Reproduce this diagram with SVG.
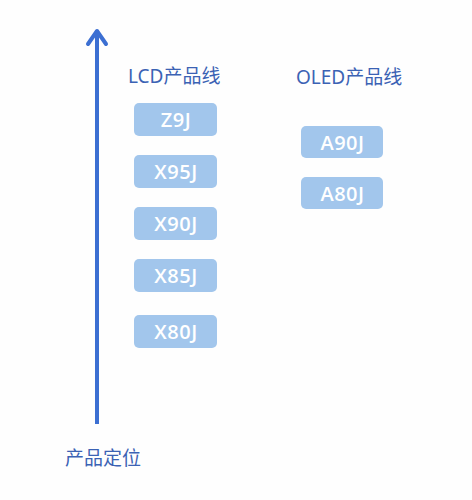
<svg xmlns="http://www.w3.org/2000/svg" width="472" height="500" viewBox="0 0 472 500">
<style>
.bg{fill:#fefefe}
.box{fill:#a2c6ec}
.lbl{font-family:"Open Sans","Noto Sans","Noto Sans CJK SC",sans-serif;font-size:20px;font-weight:600;letter-spacing:0.5px;fill:#ffffff;text-anchor:middle}
.hdr{font-family:"Noto Sans","Noto Sans CJK SC",sans-serif;font-size:19px;fill:#3b62b4}
.axis{stroke:#3c6fd2;stroke-width:4;fill:none}
</style>
<rect class="bg" x="0" y="0" width="472" height="500"/>
<g id="connectors">
<line class="axis" x1="97" y1="424" x2="97" y2="30"/>
<polyline class="axis" points="88,44 97,31 106,44" stroke-linecap="round" stroke-linejoin="round"/>
</g>
<g id="axis-label"><text class="hdr" x="65" y="465">产品定位</text></g>
<g id="lcd-title"><text class="hdr" x="128" y="83">LCD产品线</text></g>
<g id="oled-title"><text class="hdr" x="296" y="84">OLED产品线</text></g>
<g id="z9j"><rect class="box" x="134" y="103" width="83" height="33" rx="5"/><text class="lbl" x="176" y="127">Z9J</text></g>
<g id="x95j"><rect class="box" x="134" y="155" width="83" height="33" rx="5"/><text class="lbl" x="176" y="179">X95J</text></g>
<g id="x90j"><rect class="box" x="134" y="207" width="83" height="33" rx="5"/><text class="lbl" x="176" y="231">X90J</text></g>
<g id="x85j"><rect class="box" x="134" y="259" width="83" height="33" rx="5"/><text class="lbl" x="176" y="283">X85J</text></g>
<g id="x80j"><rect class="box" x="134" y="315" width="83" height="33" rx="5"/><text class="lbl" x="176" y="339">X80J</text></g>
<g id="a90j"><rect class="box" x="301" y="126" width="82" height="32" rx="5"/><text class="lbl" x="342.5" y="149.5">A90J</text></g>
<g id="a80j"><rect class="box" x="301" y="177" width="82" height="32" rx="5"/><text class="lbl" x="342.5" y="200.5">A80J</text></g>
</svg>
